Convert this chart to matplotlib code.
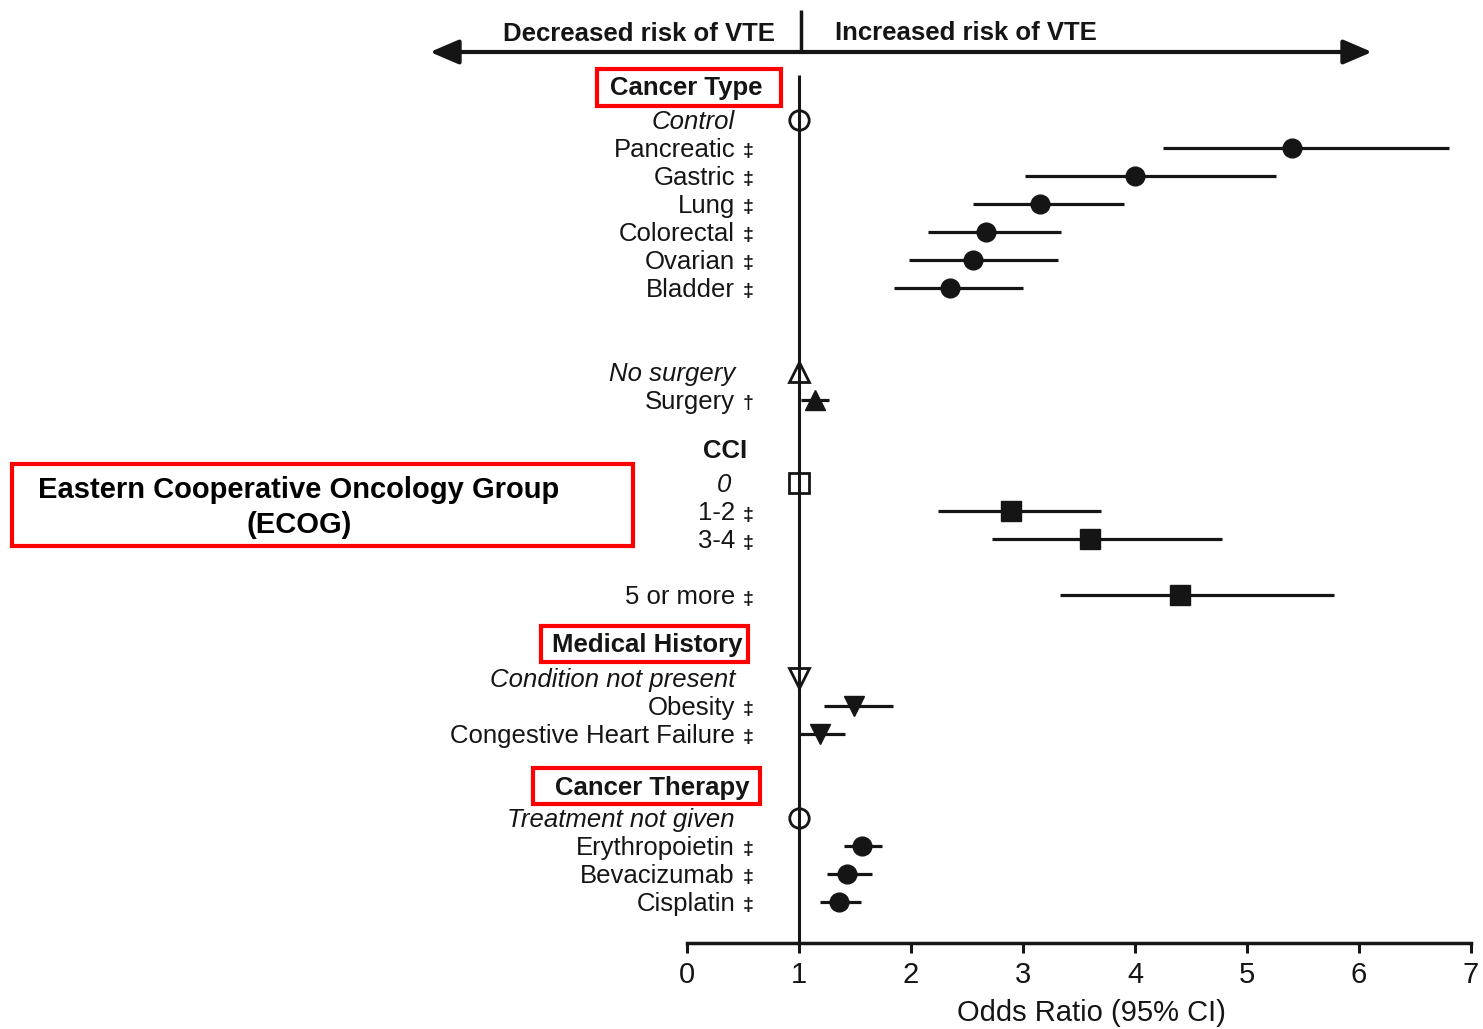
import matplotlib
matplotlib.use('Agg')
import matplotlib.pyplot as plt
from matplotlib.patches import Rectangle

plt.rcParams['font.family'] = ['Liberation Sans', 'DejaVu Sans']

# ---------------- data ----------------
ref_or = 1.0

cancer_labels = ["Pancreatic", "Gastric", "Lung", "Colorectal", "Ovarian", "Bladder"]
cancer_or = [5.40, 4.00, 3.15, 2.67, 2.55, 2.35]
cancer_lo = [4.25, 3.02, 2.55, 2.15, 1.98, 1.85]
cancer_hi = [6.80, 5.26, 3.90, 3.34, 3.31, 3.00]

surgery_labels = ["Surgery"]
surgery_or = [1.14]
surgery_lo = [1.02]
surgery_hi = [1.27]

cci_labels = ["1-2", "3-4", "5 or more"]
cci_or = [2.89, 3.60, 4.40]
cci_lo = [2.24, 2.72, 3.33]
cci_hi = [3.70, 4.78, 5.78]

history_labels = ["Obesity", "Congestive Heart Failure"]
history_or = [1.49, 1.19]
history_lo = [1.22, 1.00]
history_hi = [1.84, 1.41]

therapy_labels = ["Erythropoietin", "Bevacizumab", "Cisplatin"]
therapy_or = [1.56, 1.43, 1.36]
therapy_lo = [1.40, 1.25, 1.19]
therapy_hi = [1.74, 1.65, 1.55]

xticks = [0, 1, 2, 3, 4, 5, 6, 7]

# ---------------- layout ----------------
W, H = 1483, 1029
X0, X1, YB = 687, 1471, 943
fig = plt.figure(figsize=(W / 100, H / 100), dpi=100)
ax = fig.add_axes([X0 / W, (H - YB) / H, (X1 - X0) / W, YB / H])
ax.set_xlim(0, 7)
ax.set_ylim(YB, 0)
UNIT = (X1 - X0) / 7.0


def px(x):
    return (x - X0) / UNIT


INK = '#151515'
FS = 18.5
LBL_X = px(735)
SYM_X = px(748)
LW_BAR = 2.3
RED = '#ff0000'
DY = 2  # text baseline nudge


def group(labels, ors, los, his, rows, marker, ms, sym='\u2021'):
    for lab, o, lo, hi, y in zip(labels, ors, los, his, rows):
        ax.hlines(y, lo, hi, color=INK, lw=LW_BAR, zorder=2)
        ax.plot([o], [y], marker=marker, ms=ms, color=INK, ls='none', zorder=3)
        ax.text(LBL_X, y + DY, lab, ha='right', va='center', fontsize=FS, color=INK,
                clip_on=False)
        ax.text(SYM_X, y + 4, sym, ha='center', va='center', fontsize=14,
                fontweight='bold', color=INK, clip_on=False)


def reference(label, y, marker, ms, italic=True):
    ax.plot([ref_or], [y], marker=marker, ms=ms, mfc='none', mec=INK, mew=2.0,
            ls='none', zorder=3)
    ax.text(LBL_X, y + DY, label, ha='right', va='center', fontsize=FS, color=INK,
            style='italic' if italic else 'normal', clip_on=False)


def header(text, xc, y, box=None):
    ax.text(px(xc), y + DY, text, ha='center', va='center', fontsize=FS,
            fontweight='bold', color=INK, clip_on=False)
    if box is not None:
        x0, x1, y0, y1 = box
        ax.add_patch(Rectangle((px(x0), y0), px(x1) - px(x0), y1 - y0, fill=False,
                               ec=RED, lw=3, clip_on=False, zorder=5))


# vertical reference line
ax.vlines(ref_or, 75, YB, color=INK, lw=2.2, zorder=1)

# top arrow and labels
ax.annotate('', xy=(px(430), 52), xytext=(px(1372), 52),
            arrowprops=dict(arrowstyle='<|-|>,head_length=0.7,head_width=0.3',
                            mutation_scale=25, lw=3, color=INK,
                            shrinkA=0, shrinkB=0), annotation_clip=False)
ax.vlines(ref_or + 0.02, 10, 52, color=INK, lw=2.5, clip_on=False)
ax.text(px(775), 34, 'Decreased risk of VTE', ha='right', va='center', fontsize=FS,
        fontweight='bold', color=INK, clip_on=False)
ax.text(px(835), 33, 'Increased risk of VTE', ha='left', va='center', fontsize=FS,
        fontweight='bold', color=INK, clip_on=False)

# Cancer type
header('Cancer Type', 686, 86, box=(597, 781, 69, 106))
reference('Control', 120, 'o', 14)
group(cancer_labels, cancer_or, cancer_lo, cancer_hi, [148, 176, 204, 232, 260, 288], 'o', 13.5)

# Surgery
reference('No surgery', 372, '^', 14)
group(surgery_labels, surgery_or, surgery_lo, surgery_hi, [400], '^', 14, sym='\u2020')

# CCI
header('CCI', 725, 449)
ax.plot([ref_or], [483], marker='s', ms=15, mfc='none', mec=INK, mew=2.0, ls='none', zorder=3)
ax.text(px(731), 483 + DY, '0', ha='right', va='center', fontsize=FS, color=INK,
        style='italic', clip_on=False)
group(cci_labels, cci_or, cci_lo, cci_hi, [511, 539, 595], 's', 14)

# Medical history
header('Medical History', 647, 643, box=(541, 748, 626, 662))
reference('Condition not present', 678, 'v', 14)
group(history_labels, history_or, history_lo, history_hi, [706, 734], 'v', 14)

# Cancer therapy
header('Cancer Therapy', 652, 786, box=(533, 760, 768, 804))
reference('Treatment not given', 818, 'o', 14)
group(therapy_labels, therapy_or, therapy_lo, therapy_hi, [846, 874, 902], 'o', 13.5)

# ECOG box
ax.add_patch(Rectangle((px(12), 464), px(633) - px(12), 546 - 464, fill=False,
                       ec=RED, lw=3, clip_on=False, zorder=5))
ax.text(px(299), 490, 'Eastern Cooperative Oncology Group', ha='center', va='center',
        fontsize=21, fontweight='bold', color='black', clip_on=False)
ax.text(px(299), 525, '(ECOG)', ha='center', va='center',
        fontsize=21, fontweight='bold', color='black', clip_on=False)

# axis
for s in ['top', 'left', 'right']:
    ax.spines[s].set_visible(False)
ax.spines['bottom'].set_linewidth(2.5)
ax.spines['bottom'].set_color(INK)
ax.set_yticks([])
ax.set_xticks(xticks)
ax.set_xticklabels([str(t) for t in xticks])
ax.tick_params(axis='x', direction='out', length=7, width=2.2, labelsize=21,
               pad=6, colors=INK)
ax.text(px(1091), 1013, 'Odds Ratio (95% CI)', ha='center', va='center', fontsize=21,
        color=INK, clip_on=False)

fig.savefig('out.png', dpi=100)
